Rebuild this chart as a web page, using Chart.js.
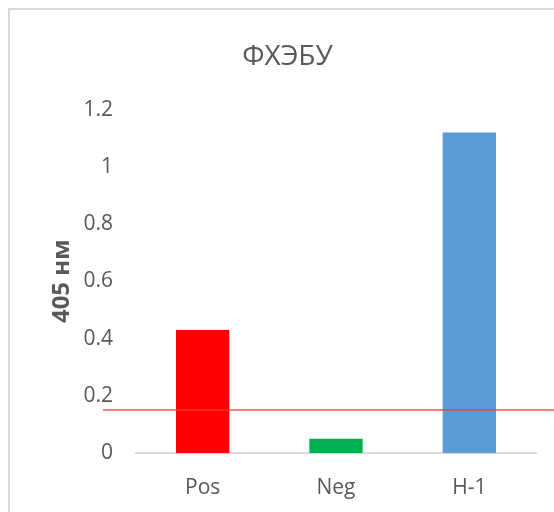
<!DOCTYPE html>
<html>
<head>
<meta charset="utf-8">
<script src="https://cdn.jsdelivr.net/npm/chart.js@4.4.1/dist/chart.umd.min.js"></script>
<style>
  html, body { margin: 0; padding: 0; background: #fff; overflow: hidden; }
  #frame {
    position: absolute; left: 8px; top: 8px; width: 700px; height: 700px;
    border-left: 2px solid #d9d9d9; border-top: 2px solid #d9d9d9;
  }
  #c { position: absolute; left: 0; top: 0; }
</style>
</head>
<body>
<div id="frame"></div>
<canvas id="c" width="554" height="512"></canvas>
<script>
// Optical density at 405 nm for each sample
const categories = ['Pos', 'Neg', 'H-1'];
const absorbance = [0.43, 0.05, 1.12];
const barColors = ['#FF0000', '#00B050', '#5B9BD5'];
const cutoff = 0.15;           // positivity threshold
const yMin = 0, yMax = 1.2, yStep = 0.2;

const FONT = '"Open Sans", "Liberation Sans", sans-serif';
const TEXT = '#595959';

// Horizontal threshold line, placed through the y scale
const cutoffLine = {
  id: 'cutoffLine',
  afterDatasetsDraw(chart) {
    const y = chart.scales.y.getPixelForValue(cutoff);
    const ctx = chart.ctx;
    ctx.save();
    ctx.strokeStyle = 'rgba(255,50,50,0.85)';
    ctx.lineWidth = 1.5;
    ctx.beginPath();
    ctx.moveTo(chart.chartArea.left - 33, y);
    ctx.lineTo(chart.width, y);
    ctx.stroke();
    ctx.restore();
  }
};

new Chart(document.getElementById('c'), {
  type: 'bar',
  data: {
    labels: categories,
    datasets: [{
      data: absorbance,
      backgroundColor: barColors,
      borderWidth: 0,
      categoryPercentage: 1,
      barPercentage: 0.4
    }]
  },
  options: {
    responsive: false,
    animation: false,
    devicePixelRatio: 1,
    layout: { padding: { left: 39, right: 18, top: 0, bottom: 0 } },
    plugins: {
      legend: { display: false },
      tooltip: { enabled: false },
      title: {
        display: true,
        text: 'ФХЭБУ',
        color: TEXT,
        font: { family: FONT, size: 28, weight: 'normal', lineHeight: 1.2 },
        padding: { top: 40, bottom: 36 }
      }
    },
    scales: {
      x: {
        grid: { display: false, drawTicks: false },
        border: { display: true, color: '#d9d9d9', width: 2 },
        ticks: { color: TEXT, font: { family: FONT, size: 21 }, padding: 22 },
        afterFit(scale) { scale.height = 59; }
      },
      y: {
        min: yMin,
        max: yMax,
        grid: { display: false, drawTicks: false },
        border: { display: false },
        ticks: {
          stepSize: yStep,
          color: TEXT,
          padding: 23,
          font: { family: FONT, size: 21 },
          callback: v => String(Math.round(v * 10) / 10)
        },
        title: {
          display: true,
          text: '405 нм',
          color: TEXT,
          font: { family: FONT, size: 24, weight: 'bold', lineHeight: 1.2 },
          padding: { top: 9, bottom: 0 }
        },
        afterFit(scale) { scale.width = 97; }
      }
    }
  },
  plugins: [cutoffLine]
});
</script>
</body>
</html>
